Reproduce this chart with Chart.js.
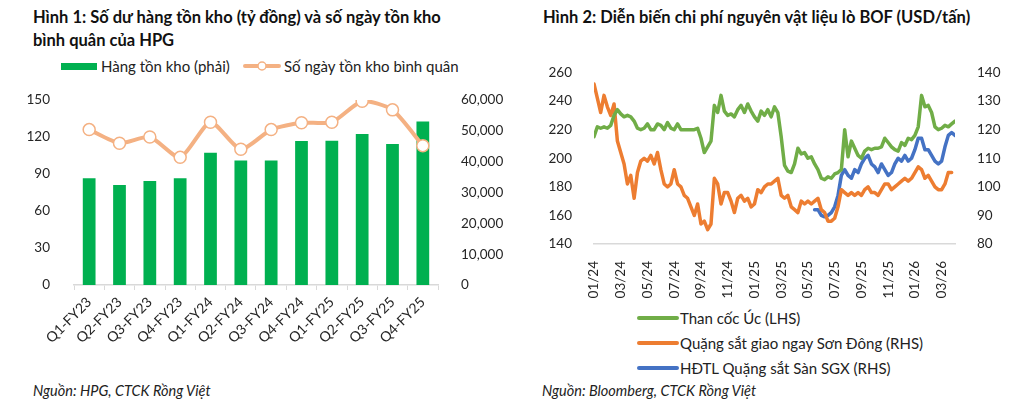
<!DOCTYPE html>
<html lang="vi">
<head>
<meta charset="UTF-8">
<title>HPG - hàng tồn kho và chi phí nguyên vật liệu</title>
<script src="https://cdn.jsdelivr.net/npm/chart.js"></script>
<style>
  body { margin: 0; width: 1022px; height: 411px; background: #fff; position: relative; overflow: hidden; font-family: Lato, sans-serif; color: #1a1a1a; }
  .title { position: absolute; font-weight: bold; font-size: 16.5px; line-height: 22.5px; color: #111; white-space: nowrap; }
  .leg { position: absolute; font-size: 15px; line-height: 18px; white-space: nowrap; color: #222; }
  .src { position: absolute; font-style: italic; font-size: 14.5px; line-height: 16px; color: #222; white-space: nowrap; }
  canvas { position: absolute; }
  .swatch { position: absolute; }
</style>
</head>
<body>
  <div class="title" style="left:33px; top:6px;">Hình 1: Số dư hàng tồn kho (tỷ đồng) và số ngày tồn kho<br>bình quân của HPG</div>
  <div class="title" style="left:543px; top:6px;">Hình 2: Diễn biến chi phí nguyên vật liệu lò BOF (USD/tấn)</div>

  <!-- legend hinh 1 -->
  <div class="swatch" style="left:61px; top:63px; width:36px; height:7px; background:#00b050;"></div>
  <div class="leg" style="left:101px; top:57px;">Hàng tồn kho (phải)</div>
  <svg class="swatch" style="left:243px; top:60px;" width="38" height="12">
    <line x1="2" y1="6" x2="36" y2="6" stroke="#f4b183" stroke-width="4" stroke-linecap="round"/>
    <circle cx="19" cy="6" r="4" fill="#fff" stroke="#f4b183" stroke-width="1.5"/>
  </svg>
  <div class="leg" style="left:284px; top:57px;">Số ngày tồn kho bình quân</div>

  <canvas id="inventoryChart" width="510" height="262" style="left:0; top:88px;"></canvas>
  <canvas id="bofChart" width="502" height="240" style="left:520px; top:60px;"></canvas>

  <!-- legend hinh 2 -->
  <svg class="swatch" style="left:636px; top:312px;" width="44" height="62">
    <line x1="3" y1="6" x2="41" y2="6" stroke="#70ad47" stroke-width="4" stroke-linecap="round"/>
    <line x1="3" y1="31" x2="41" y2="31" stroke="#ed7d31" stroke-width="4" stroke-linecap="round"/>
    <line x1="3" y1="56" x2="41" y2="56" stroke="#4472c4" stroke-width="4" stroke-linecap="round"/>
  </svg>
  <div class="leg" style="left:680px; top:309px;">Than cốc Úc (LHS)</div>
  <div class="leg" style="left:680px; top:334px;">Quặng sắt giao ngay Sơn Đông (RHS)</div>
  <div class="leg" style="left:680px; top:359px;">HĐTL Quặng sắt Sàn SGX (RHS)</div>

  <div class="src" style="left:33px; top:383px;">Nguồn: HPG, CTCK Rồng Việt</div>
  <div class="src" style="left:542px; top:383px;">Nguồn: Bloomberg, CTCK Rồng Việt</div>

<script>
// ---- Hinh 1 data ----
const quarters = ['Q1-FY23', 'Q2-FY23', 'Q3-FY23', 'Q4-FY23', 'Q1-FY24', 'Q2-FY24',
                  'Q3-FY24', 'Q4-FY24', 'Q1-FY25', 'Q2-FY25', 'Q3-FY25', 'Q4-FY25'];
const inventory = [34600, 32400, 33700, 34600, 42900, 40400, 40400, 46700, 46800, 49000, 45700, 53000];
const inventoryDays = [126, 115, 120, 103.5, 132, 110, 126, 131.5, 132, 149, 142, 113];

// ---- Hinh 2 data (one value every quarter month, starting 01/2024) ----
const monthTicks = ['01/24', '03/24', '05/24', '07/24', '09/24', '11/24', '01/25',
                    '03/25', '05/25', '07/25', '09/25', '11/25', '01/26', '03/26'];
const cokeAU = [
  215, 222, 221, 222, 221, 223, 230, 234, 231, 229, 230, 229, 226, 221, 220, 221,
  224, 220, 220, 224, 223, 220, 225, 221, 220, 224, 220, 220, 220, 220, 220, 221,
  214, 204, 208, 212, 237, 232, 244, 233, 230, 231, 229, 234, 237, 232, 238, 233,
  229, 226, 233, 230, 234, 229, 236, 232, 215, 195, 191, 190, 196, 207, 203, 204,
  200, 201, 196, 192, 186, 185, 187, 186, 189, 190, 192, 220, 201, 212, 207, 202,
  200, 205, 207, 206, 207, 207, 208, 214, 211, 208, 206, 205, 211, 209, 214, 213,
  216, 222, 244, 236, 237, 232, 222, 220, 221, 223, 222, 224, 226
];
const oreSpot = [
  136, 131, 126, 132, 128, 125, 129, 116, 112, 108, 101, 104, 96, 105, 109, 110,
  109, 111, 108, 112, 106, 101, 100, 101, 106, 101, 100, 97, 96, 93, 90, 94,
  87, 88, 85, 87, 103, 101, 94, 98, 98, 95, 91, 96, 97, 95, 96, 93,
  94, 99, 98, 100, 101, 101, 102, 103, 97, 96, 97, 93, 92, 91, 95, 94,
  95, 94, 95, 96, 92, 91, 88, 88, 89, 93, 99, 98, 97, 98, 97, 98,
  97, 99, 100, 98, 98, 97, 99, 101, 101, 99, 100, 101, 102, 103, 102, 103,
  105, 107, 106, 103, 104, 102, 100, 99, 99, 101, 105, 105, null
];
const sgxStart = 66; // series begins mid 05/2025
const oreSGX = [
  92, 92, 90, 89.5, 90, 91, 93, 97, 104, 106, 104, 103, 106, 105, 108, 110,
  111, 108, 107, 105, 108, 106, 104, 105, 108, 110, 109, 111, 109, 110, 113, 117,
  117, 113, 113, 111, 109, 108, 109, 114, 118, 119, 118
];

const textColor = '#262626';
const axisGrey = '#d9d9d9';
Chart.defaults.font.family = 'Lato, sans-serif';
Chart.defaults.font.size = 13.5;
Chart.defaults.color = textColor;

// fix the y axis width and drop the extra top/bottom padding chart.js adds for labels
const fixWidth = w => s => { s.width = w; s.paddingTop = 0; s.paddingBottom = 0; };

new Chart(document.getElementById('inventoryChart'), {
  type: 'bar',
  data: {
    labels: quarters,
    datasets: [{
      type: 'line',
      label: 'Số ngày tồn kho bình quân',
      data: inventoryDays,
      yAxisID: 'yDays',
      borderColor: '#f4b183',
      borderWidth: 4,
      tension: 0.22,
      pointRadius: 6,
      pointBackgroundColor: '#fff',
      pointBorderColor: '#f4b183',
      pointBorderWidth: 1.5,
      order: 0
    }, {
      label: 'Hàng tồn kho (phải)',
      data: inventory,
      yAxisID: 'yInv',
      backgroundColor: '#00b050',
      barPercentage: 0.42,
      categoryPercentage: 1,
      order: 1
    }]
  },
  options: {
    responsive: false,
    animation: false,
    devicePixelRatio: 1,
    layout: { padding: { top: 12 }, autoPadding: false },
    plugins: { legend: { display: false }, tooltip: { enabled: false } },
    scales: {
      x: {
        grid: { drawOnChartArea: false, drawTicks: true, tickLength: 5, color: axisGrey, offset: true },
        border: { color: axisGrey, width: 1.5 },
        ticks: { minRotation: 45, maxRotation: 45, padding: 4, font: { size: 14 } },
        afterFit: s => { s.height = 65; }
      },
      yDays: {
        position: 'left',
        min: 0, max: 150,
        ticks: { stepSize: 30, padding: 16 },
        grid: { display: false },
        border: { display: false },
        afterFit: fixWidth(74)
      },
      yInv: {
        position: 'right',
        min: 0, max: 60000,
        ticks: { stepSize: 10000, padding: 15, callback: v => v.toLocaleString('en-US') },
        grid: { display: false },
        border: { display: false },
        afterFit: fixWidth(72)
      }
    }
  }
});

const toPoints = (values, start) => values.map((v, i) => ({ x: (start + i) / 4, y: v }));

new Chart(document.getElementById('bofChart'), {
  type: 'line',
  data: {
    datasets: [{
      label: 'Than cốc Úc (LHS)',
      data: toPoints(cokeAU, 0),
      yAxisID: 'yL',
      borderColor: '#70ad47'
    }, {
      label: 'Quặng sắt giao ngay Sơn Đông (RHS)',
      data: toPoints(oreSpot, 0),
      yAxisID: 'yR',
      borderColor: '#ed7d31'
    }, {
      label: 'HĐTL Quặng sắt Sàn SGX (RHS)',
      data: toPoints(oreSGX, sgxStart),
      yAxisID: 'yR',
      borderColor: '#4472c4'
    }]
  },
  options: {
    responsive: false,
    animation: false,
    devicePixelRatio: 1,
    layout: { padding: { top: 12.5 }, autoPadding: false },
    elements: {
      line: { borderWidth: 3.5, tension: 0, borderJoinStyle: 'round', borderCapStyle: 'round' },
      point: { radius: 0 }
    },
    plugins: { legend: { display: false }, tooltip: { enabled: false } },
    scales: {
      x: {
        type: 'linear',
        min: 0, max: 27,
        afterBuildTicks: s => { s.ticks = monthTicks.map((t, i) => ({ value: i * 2 })); },
        ticks: { minRotation: 90, maxRotation: 90, padding: 9, callback: (v, i) => monthTicks[i] },
        grid: { display: false },
        border: { color: axisGrey, width: 1.5 },
        afterFit: s => { s.height = 56; }
      },
      yL: {
        position: 'left',
        min: 140, max: 260,
        ticks: { stepSize: 20, padding: 14 },
        grid: { display: false },
        border: { display: false },
        afterFit: fixWidth(74)
      },
      yR: {
        position: 'right',
        min: 80, max: 140,
        ticks: { stepSize: 10, padding: 14 },
        grid: { display: false },
        border: { display: false },
        afterFit: fixWidth(67)
      }
    }
  }
});
</script>
</body>
</html>
